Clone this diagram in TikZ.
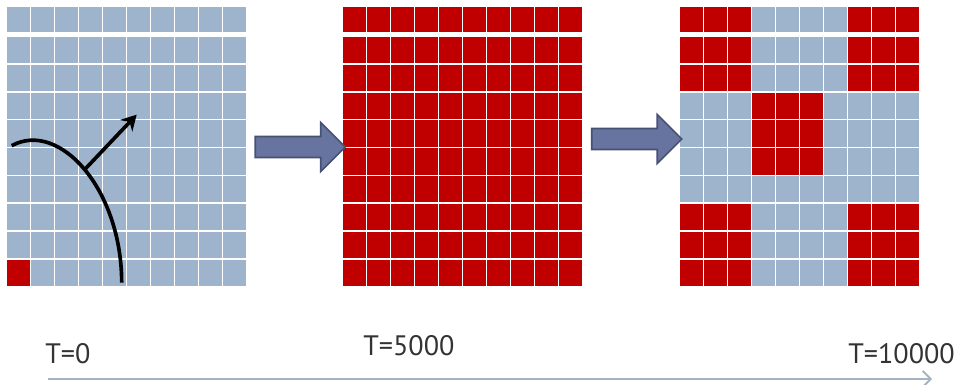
\documentclass[tikz,border=0pt]{standalone}
\usepackage{fontspec}
\setmainfont{PT Sans}
\usetikzlibrary{arrows.meta, positioning, calc, shapes.arrows}
\definecolor{cellblue}{HTML}{9DB4CC}
\definecolor{cellred}{HTML}{C00000}
\definecolor{slate}{HTML}{6874A0}
\definecolor{slatedk}{HTML}{465174}
\definecolor{timegray}{HTML}{A7B3C3}
\definecolor{txtgray}{HTML}{333333}

\begin{document}
\begin{tikzpicture}[
    x=0.025cm, y=-0.025cm,
    >={Stealth[length=3.8mm, width=4.2mm]},
    every node/.style={text=txtgray},
    gridbox/.style={minimum width=6cm, minimum height=7cm, inner sep=0pt},
    blockarrow/.style={single arrow, fill=slate, draw=slatedk, line width=1.2pt,
      inner xsep=0pt, inner ysep=0.24cm, minimum height=2.25cm,
      minimum width=1.18cm, single arrow head extend=0.35cm},
    timelabel/.style={font=\fontsize{20}{24}\selectfont, inner sep=0pt, anchor=west},
  ]

  % Canvas
  \useasboundingbox (0,0) rectangle (967,385);

  %%% ============================================================ %%%
  %%% Grid 1: T=0, one red cell                                    %%%
  %%% ============================================================ %%%
  \node[gridbox] (g1) at (127,147) {};
  \begin{scope}[shift={(g1.north west)}]
    \foreach \r in {0,...,9} \foreach \c in {0,...,9} {
      \pgfmathsetmacro{\ya}{\r==0 ? 0 : 29.5+(\r-1)*27.83}
      \pgfmathsetmacro{\yb}{\r==0 ? 26 : \ya+27.83}
      \pgfmathtruncatemacro{\isred}{(\r==9 && \c==0) ? 1 : 0}
      \ifnum\isred=1
        \fill[cellred] (\c*24+0.75,\ya+0.75) rectangle (\c*24+23.25,\yb-0.75);
      \else
        \fill[cellblue] (\c*24+0.75,\ya+0.75) rectangle (\c*24+23.25,\yb-0.75);
      \fi
    }

    % Growing front with its direction
    \draw[line width=2.6pt] (5,139) .. controls (53,113) and (115,183) .. (115,276)
      coordinate[pos=0.5] (front);
    \coordinate (dir) at (130,108);
    \draw[->, line width=2.6pt] (front) -- (dir);
  \end{scope}

  %%% ============================================================ %%%
  %%% Grid 2: T=5000, all red                                      %%%
  %%% ============================================================ %%%
  \node[gridbox] (g2) at (463,147) {};
  \begin{scope}[shift={(g2.north west)}]
    \foreach \r in {0,...,9} \foreach \c in {0,...,9} {
      \pgfmathsetmacro{\ya}{\r==0 ? 0 : 29.5+(\r-1)*27.83}
      \pgfmathsetmacro{\yb}{\r==0 ? 26 : \ya+27.83}
      \fill[cellred] (\c*24+0.75,\ya+0.75) rectangle (\c*24+23.25,\yb-0.75);
    }
  \end{scope}

  %%% ============================================================ %%%
  %%% Grid 3: T=10000, corners and centre red                      %%%
  %%% ============================================================ %%%
  \node[gridbox] (g3) at (800,147) {};
  \begin{scope}[shift={(g3.north west)}]
    \foreach \r in {0,...,9} \foreach \c in {0,...,9} {
      \pgfmathsetmacro{\ya}{\r==0 ? 0 : 29.5+(\r-1)*27.83}
      \pgfmathsetmacro{\yb}{\r==0 ? 26 : \ya+27.83}
      \pgfmathtruncatemacro{\isred}{(((\r<3 || \r>6) && (\c<3 || \c>6))
        || (\r>2 && \r<6 && \c>2 && \c<6)) ? 1 : 0}
      \ifnum\isred=1
        \fill[cellred] (\c*24+0.75,\ya+0.75) rectangle (\c*24+23.25,\yb-0.75);
      \else
        \fill[cellblue] (\c*24+0.75,\ya+0.75) rectangle (\c*24+23.25,\yb-0.75);
      \fi
    }
  \end{scope}

  % Block arrows between the grids
  \node[blockarrow] (a1) at ($(g1.east)!0.5!(g2.west)$) {};
  \node[blockarrow, yshift=0.2cm] (a2) at ($(g2.east)!0.5!(g3.west)$) {};

  %%% ============================================================ %%%
  %%% Time axis                                                    %%%
  %%% ============================================================ %%%
  \node[timelabel] (t0) at (45,354) {T=0};
  \node[timelabel] (t5000) at (363,346) {T=5000};
  \node[timelabel] (t10000) at (848,354) {T=10000};

  \coordinate (tstart) at (48,379);
  \coordinate (tend) at (932,379);
  \draw[timegray, line width=1.3pt, -{Straight Barb[length=2mm, width=4mm]}]
    (tstart) -- (tend);

\end{tikzpicture}
\end{document}
